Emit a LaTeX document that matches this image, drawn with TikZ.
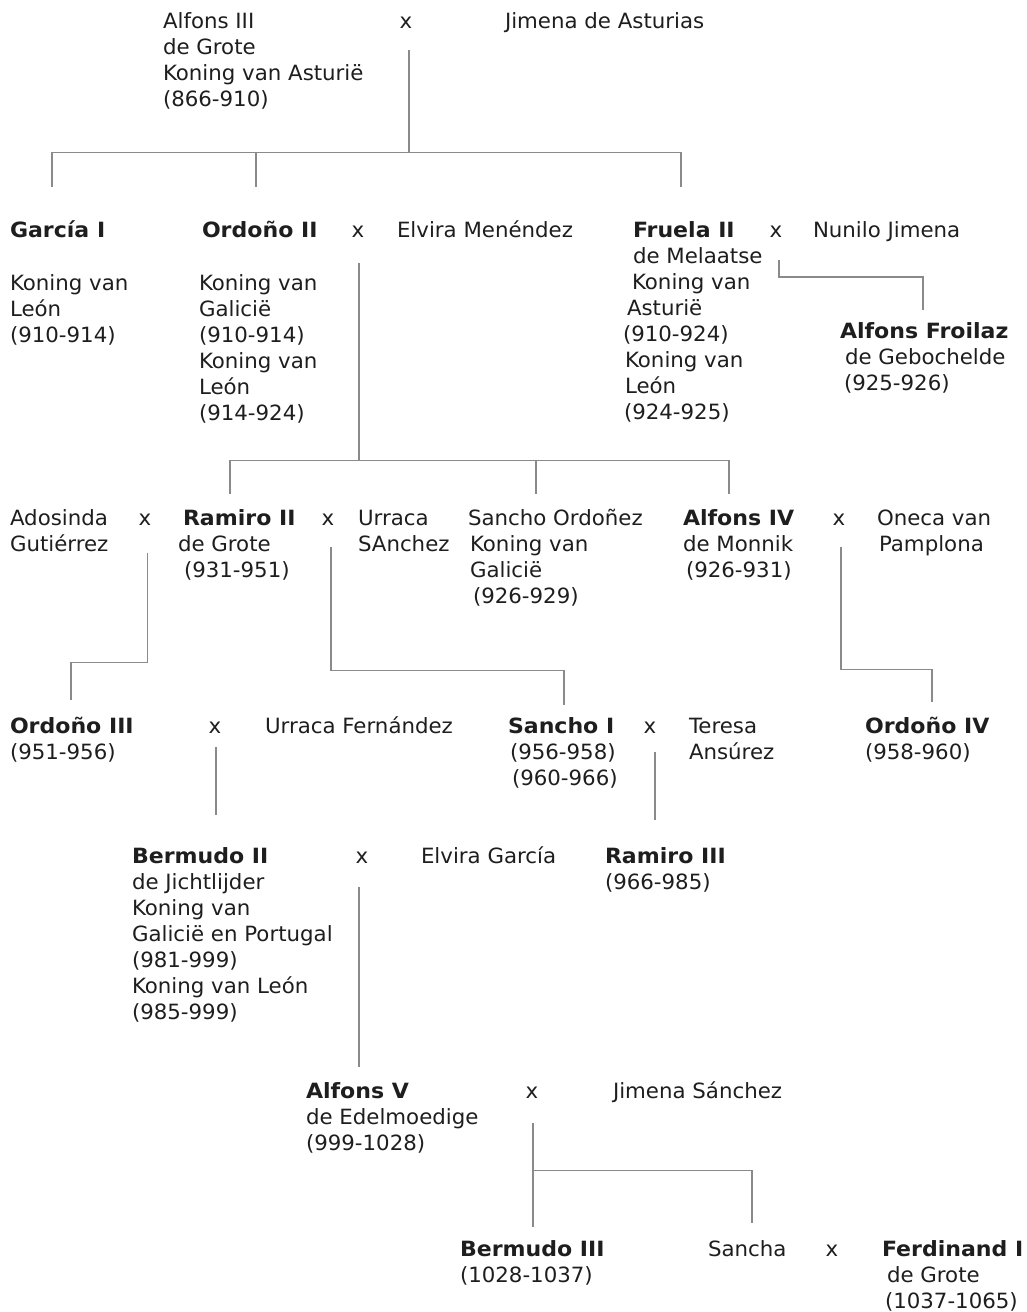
\documentclass[tikz,border=0pt]{standalone}
\usepackage{fontspec}
\setmainfont{DejaVu Sans}[FakeStretch=1.015, BoldFeatures={FakeStretch=1.05}]
\definecolor{linegray}{HTML}{8A8A8A}
\definecolor{txt}{HTML}{1E1E1E}
\newcommand{\pstack}[1]{\begin{tabular}[t]{@{}l@{}}#1\end{tabular}}
\begin{document}
\begin{tikzpicture}[x=1pt,y=-1pt,
  every node/.style={inner sep=0pt, outer sep=0pt, text=txt, font=\fontsize{21}{26}\selectfont},
  person/.style={anchor=base west},
  marr/.style={anchor=base},
  conn/.style={draw=linegray, line width=1.2pt}]
\useasboundingbox[fill=white] (0,0) rectangle (1027,1312);

% ---------- generation 1
\node[person] (alfons3) at (163,28) {\pstack{Alfons III\\de Grote\\Koning van Asturië\\(866-910)}};
\node[marr] (x1) at (406,28) {x};
\node[person] (jimena) at (505,28) {Jimena de Asturias};

% ---------- generation 2
\node[person] (garcia) at (10,237) {\textbf{García I}};
\node[person] (garciaK) at (10,290) {\pstack{Koning van\\León\\(910-914)}};
\node[person] (ordono2) at (202,237) {\textbf{Ordoño II}};
\node[person] (ordono2K) at (199,290) {\pstack{Koning van\\Galicië\\(910-914)\\Koning van\\León\\(914-924)}};
\node[marr] (x2) at (358,237) {x};
\node[person] (elvira) at (397,237) {Elvira Menéndez};
\node[person] (fruela) at (623,237) {\pstack{\hspace*{10pt}\textbf{Fruela II}\\\hspace*{10pt}de Melaatse\\\hspace*{9pt}Koning van\\\hspace*{4pt}Asturië\\(910-924)\\\hspace*{2pt}Koning van\\\hspace*{2pt}León\\\hspace*{1pt}(924-925)}};
\node[marr] (x3) at (776,237) {x};
\node[person] (nunilo) at (813,237) {Nunilo Jimena};
\node[person] (froilaz) at (840,338) {\pstack{\textbf{Alfons Froilaz}\\\hspace*{5pt}de Gebochelde\\\hspace*{4pt}(925-926)}};

% ---------- generation 3
\node[person] (adosinda) at (10,525) {\pstack{Adosinda\\Gutiérrez}};
\node[marr] (x4) at (145,525) {x};
\node[person] (ramiro2) at (178,525) {\pstack{\hspace*{5pt}\textbf{Ramiro II}\\de Grote\\\hspace*{6pt}(931-951)}};
\node[marr] (x5) at (328,525) {x};
\node[person] (urraca) at (358,525) {\pstack{Urraca\\SAnchez}};
\node[person] (sanchoO) at (468,525) {\pstack{Sancho Ordoñez\\\hspace*{2pt}Koning van\\\hspace*{2pt}Galicië\\\hspace*{5pt}(926-929)}};
\node[person] (alfons4) at (683,525) {\pstack{\textbf{Alfons IV}\\de Monnik\\\hspace*{3pt}(926-931)}};
\node[marr] (x6) at (839,525) {x};
\node[person] (oneca) at (877,525) {\pstack{Oneca van\\\hspace*{2pt}Pamplona}};

% ---------- generation 4
\node[person] (ordono3) at (10,733) {\pstack{\textbf{Ordoño III}\\(951-956)}};
\node[marr] (x7) at (215,733) {x};
\node[person] (urracaF) at (265,733) {Urraca Fernández};
\node[person] (sancho1) at (508,733) {\pstack{\textbf{Sancho I}\\\hspace*{2pt}(956-958)\\\hspace*{4pt}(960-966)}};
\node[marr] (x8) at (650,733) {x};
\node[person] (teresa) at (689,733) {\pstack{Teresa\\Ansúrez}};
\node[person] (ordono4) at (865,733) {\pstack{\textbf{Ordoño IV}\\(958-960)}};

% ---------- generation 5
\node[person] (bermudo2) at (132,863) {\pstack{\textbf{Bermudo II}\\de Jichtlijder\\Koning van\\Galicië en Portugal\\(981-999)\\Koning van León\\(985-999)}};
\node[marr] (x9) at (362,863) {x};
\node[person] (elviraG) at (421,863) {Elvira García};
\node[person] (ramiro3) at (605,863) {\pstack{\textbf{Ramiro III}\\(966-985)}};

% ---------- generation 6
\node[person] (alfons5) at (306,1098) {\pstack{\textbf{Alfons V}\\de Edelmoedige\\(999-1028)}};
\node[marr] (x10) at (532,1098) {x};
\node[person] (jimenaS) at (613,1098) {Jimena Sánchez};

% ---------- generation 7
\node[person] (bermudo3) at (460,1256) {\pstack{\textbf{Bermudo III}\\(1028-1037)}};
\node[person] (sancha) at (708,1256) {Sancha};
\node[marr] (x11) at (832,1256) {x};
\node[person] (ferdinand) at (882,1256) {\pstack{\textbf{Ferdinand I}\\\hspace*{5pt}de Grote\\\hspace*{3pt}(1037-1065)}};

% ---------- connector points
\coordinate (c1a) at (409,50);   \coordinate (c1b) at (409,152.5);
\coordinate (c1l) at (52,152.5); \coordinate (c1m) at (256,152.5); \coordinate (c1r) at (681,152.5);
\coordinate (e1l) at (52,186.5); \coordinate (e1m) at (256,186.5); \coordinate (e1r) at (681,186.5);

\coordinate (c2a) at (359,263);  \coordinate (c2b) at (359,460.5);
\coordinate (c2l) at (230,460.5); \coordinate (c2m) at (536,460.5); \coordinate (c2r) at (729,460.5);
\coordinate (e2l) at (230,493.5); \coordinate (e2m) at (536,493.5); \coordinate (e2r) at (729,493.5);

\coordinate (c3a) at (779,260); \coordinate (b3) at (779,277); \coordinate (e3) at (923,310);
\coordinate (c4a) at (147.5,552.5); \coordinate (b4) at (147.5,662.5); \coordinate (e4) at (71,700);
\coordinate (c5a) at (331,547); \coordinate (b5) at (331,670.5); \coordinate (e5) at (564,705);
\coordinate (c6a) at (841,547); \coordinate (b6) at (841,669.5); \coordinate (e6) at (932,702);
\coordinate (c7a) at (216,747); \coordinate (e7) at (216,815);
\coordinate (c8a) at (655,752); \coordinate (e8) at (655,820);
\coordinate (c9a) at (359,887); \coordinate (e9) at (359,1067);
\coordinate (c10a) at (533,1123); \coordinate (e10l) at (533,1226.5);
\coordinate (c10m) at (533,1170.5); \coordinate (e10r) at (752,1223);

% ---------- connectors
\draw[conn] (c1a) -- (c1b);
\draw[conn] (e1l) -- (c1l) -- (c1r) -- (e1r);
\draw[conn] (c1m) -- (e1m);

\draw[conn] (c2a) -- (c2b);
\draw[conn] (e2l) -- (c2l) -- (c2r) -- (e2r);
\draw[conn] (c2m) -- (e2m);

\draw[conn] (c3a) -- (b3) -| (e3);
\draw[conn] (c4a) -- (b4) -| (e4);
\draw[conn] (c5a) -- (b5) -| (e5);
\draw[conn] (c6a) -- (b6) -| (e6);
\draw[conn] (c7a) -- (e7);
\draw[conn] (c8a) -- (e8);
\draw[conn] (c9a) -- (e9);
\draw[conn] (c10a) -- (e10l);
\draw[conn] (c10m) -| (e10r);
\end{tikzpicture}
\end{document}
